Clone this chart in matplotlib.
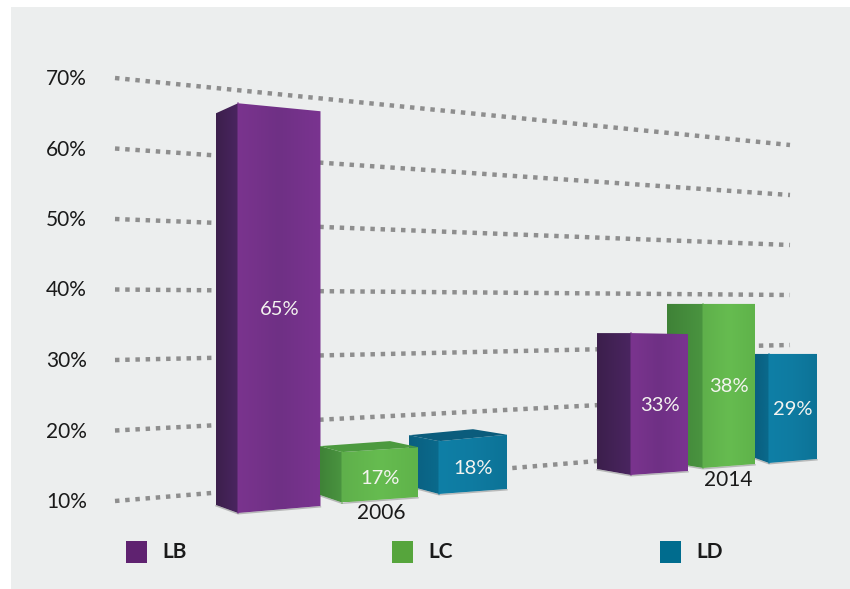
import numpy as np
import matplotlib.pyplot as plt
from matplotlib.colors import LinearSegmentedColormap
from matplotlib.patches import Polygon, Rectangle

plt.rcParams['font.family'] = ['Lato', 'DejaVu Sans']

# data
tick_values = [70, 60, 50, 40, 30, 20, 10]
series = ['LB', 'LC', 'LD']
years = ['2006', '2014']
values_2006 = [65, 17, 18]
values_2014 = [33, 38, 29]

# colours
legend_colors = ['#5F2270', '#56A53C', '#006C8E']
front_colors = [('#7A348E', '#6F3085', '#7A3490'), ('#5FB04B', '#66BC50', '#5FB34A'), ('#0E7FA6', '#0F7BA1', '#0C7397')]
side_colors = [('#3C1F4C', '#4A2560'), ('#3F8237', '#4A9440'), ('#0A5F80', '#0A6A8C')]
top_colors = ['#5E2A70', '#4C9A3F', '#0B5C7C']

# layout in pixels, one row per bar
# left, corner, right, base left, base corner, base right, px per point, top left, top right, back x, back rise
layout_2006 = [
    (216, 238, 320.5, 505, 513, 506, 7.45, 10, 8, None, 0),
    (320, 342, 418, 495, 502.5, 497, 7.2, -6, -5, 390, -11),
    (409, 439, 507, 486, 494, 489, 6.6, -6, -6.5, 473, -12),
]
layout_2014 = [
    (597, 631, 688, 469, 475, 471, 6.17, 0, 1, None, 0),
    (667, 703, 755, 462, 468, 464, 5.86, 0, 0, None, 0),
    (755, 769, 817, 458, 463, 459, 5.74, 0, 0, None, 0),
]
draw_order_2006 = [0, 2, 1]
draw_order_2014 = [1, 2, 0]


def grid_y(value, x):
    left = 501 - (value - 10) * 7.05
    right = 445 - (value - 10) * 5.0
    return left + (right - left) * (x - 115) / (790 - 115)


def shaded(ax, poly, colors, x0, x1, y0, y1):
    cmap = LinearSegmentedColormap.from_list('c', list(colors))
    im = ax.imshow(np.linspace(0, 1, 64).reshape(1, -1), cmap=cmap, extent=[x0, x1, y1, y0],
                   aspect='auto', zorder=poly.get_zorder(), interpolation='bilinear')
    ax.add_patch(poly)
    poly.set_facecolor('none')
    poly.set_edgecolor('none')
    im.set_clip_path(poly)


def draw_bar(ax, value, geom, i, z):
    xl, xc, xr, bl, bc, br, scale, dl, dr, xb, db = geom
    top = bc - (value - 10) * scale
    tl = top + dl
    tr = top + dr
    side = Polygon([(xl, tl), (xc, top), (xc, bc), (xl, bl)], zorder=z)
    front = Polygon([(xc, top), (xr, tr), (xr, br), (xc, bc)], zorder=z)
    shaded(ax, side, side_colors[i], xl, xc, min(tl, top), max(bl, bc))
    shaded(ax, front, front_colors[i], xc, xr, min(tr, top), max(br, bc))
    if xb is not None:
        ax.add_patch(Polygon([(xl, tl), (xb, top + db), (xr, tr), (xc, top)], color=top_colors[i], lw=0, zorder=z))
    # soft shadow along the bottom edge
    ax.plot([xl, xc, xr], [bl + 0.8, bc + 0.8, br + 0.8], color='#555555', lw=1, alpha=0.35, zorder=z)
    ax.plot([xc, xc], [top, bc], color=front_colors[i][0], lw=1.2, alpha=0.6, zorder=z)
    ax.text((xc + xr) / 2, (top + bc) / 2 + 1, '%d%%' % value,
            color='#F4F4F0', fontsize=14.5, ha='center', va='center', zorder=z + 0.5)


fig = plt.figure(figsize=(8.5, 5.89), dpi=100)
ax = fig.add_axes([0, 0, 1, 1])
ax.set_xlim(0, 850)
ax.set_ylim(589, 0)
ax.axis('off')

ax.add_patch(Rectangle((11, 7), 839, 582, color='#ECEEEE', lw=0, zorder=0))

for v in tick_values:
    ax.plot([115, 790], [grid_y(v, 115), grid_y(v, 790)], color='#8E8E8E', lw=3.2,
            linestyle=(0, (1.0, 1.3)), dash_capstyle='butt', zorder=1)
    ax.text(87, grid_y(v, 115) + 1, '%d%%' % v, color='#1A1A1A', fontsize=15, ha='right', va='center')

for n, i in enumerate(draw_order_2006):
    draw_bar(ax, values_2006[i], layout_2006[i], i, 2 + n)
for n, i in enumerate(draw_order_2014):
    draw_bar(ax, values_2014[i], layout_2014[i], i, 2 + n)

ax.text(381, 513, years[0], color='#1A1A1A', fontsize=15, ha='center', va='center', zorder=8)
ax.text(728, 480, years[1], color='#1A1A1A', fontsize=15, ha='center', va='center', zorder=8)

legend_x = [126, 392, 660]
for x, name, c in zip(legend_x, series, legend_colors):
    ax.add_patch(Rectangle((x, 541), 21, 22, color=c, lw=0, zorder=2))
    ax.text(x + 36, 552, name, color='#1A1A1A', fontsize=15, fontweight='bold', ha='left', va='center')

ax.set_xlim(0, 850)
ax.set_ylim(589, 0)
fig.savefig('out.png', dpi=100)
